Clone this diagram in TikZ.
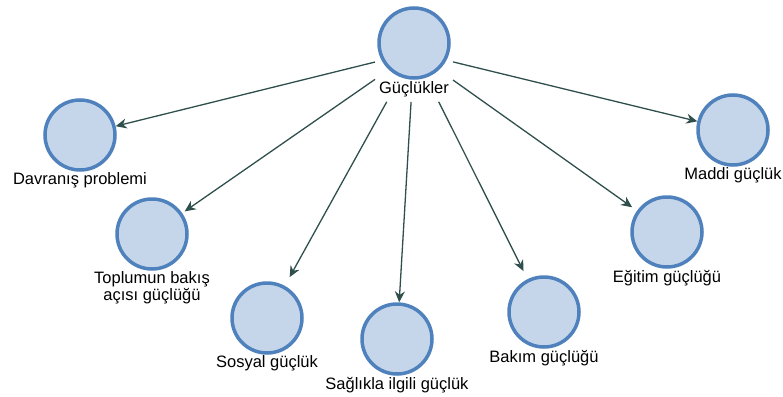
\documentclass[tikz,border=0pt]{standalone}
\usepackage{fontspec}
\setmainfont{Liberation Sans}
\usepackage{tikz}
\usetikzlibrary{positioning, arrows.meta, fit}

\definecolor{circfill}{RGB}{198,214,234}
\definecolor{circdraw}{RGB}{79,129,189}
\definecolor{arrcol}{RGB}{47,79,77}

\begin{document}
\begin{tikzpicture}[x=1pt, y=-1pt]
	% Define styles
	\tikzset{
		bubble/.style={circle, draw=circdraw, fill=circfill, line width=3.5pt, minimum size=70pt, inner sep=0pt},
		caption/.style={inner sep=1pt, align=center, font=\fontsize{16.5}{18}\selectfont},
		line/.style={draw=arrcol, line width=1.3pt, -{Stealth[length=11pt, width=10pt]}}
	}
	\useasboundingbox (0,0) rectangle (783,396);
	\clip (0,0) rectangle (783,396);

	% Nodes
	\node[bubble] (guc) at (414,43) {};
	\node[caption, below=1pt of guc] (guclbl) {Güçlükler};
	\node[fit=(guc)(guclbl), inner xsep=2pt, inner ysep=3pt] (gucall) {};

	\node[bubble] (davranis) at (80,135) {};
	\node[caption, below=0pt of davranis] (davranislbl) {Davranış problemi};

	\node[bubble] (toplum) at (152,234) {};
	\node[caption, below=0pt of toplum, font=\fontsize{16.5}{17}\selectfont] (toplumlbl) {Toplumun bakış\\açısı güçlüğü};

	\node[bubble] (sosyal) at (267,318) {};
	\node[caption, below=0pt of sosyal] (sosyallbl) {Sosyal güçlük};

	\node[bubble] (saglik) at (397,339) {};
	\node[caption, below=0pt of saglik] (sagliklbl) {Sağlıkla ilgili güçlük};

	\node[bubble] (bakim) at (544,312) {};
	\node[caption, below=0pt of bakim] (bakimlbl) {Bakım güçlüğü};

	\node[bubble] (egitim) at (667,232) {};
	\node[caption, below=0pt of egitim] (egitimlbl) {Eğitim güçlüğü};

	\node[bubble] (maddi) at (733,130) {};
	\node[caption, below=0pt of maddi] (maddilbl) {Maddi güçlük};

	% Arrows
	\draw[line] (gucall) -- (davranis);
	\draw[line, shorten >=3pt] (gucall) -- (toplum);
	\draw[line, shorten >=10pt] (gucall) -- (sosyal);
	\draw[line] (gucall) -- (saglik);
	\draw[line, shorten >=9pt] (gucall) -- (bakim);
	\draw[line, shorten >=6pt] (gucall) -- (egitim);
	\draw[line] (gucall) -- (maddi);

\end{tikzpicture}
\end{document}
